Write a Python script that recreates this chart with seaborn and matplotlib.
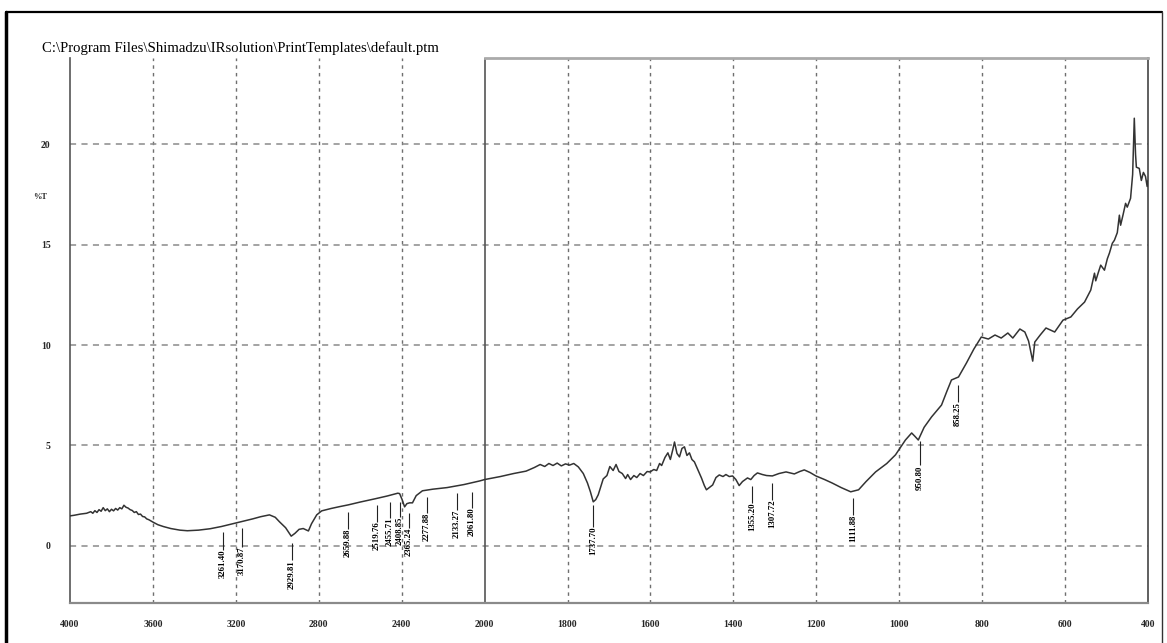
import numpy as np
import pandas as pd
import matplotlib
matplotlib.use("Agg")
import matplotlib.pyplot as plt
from matplotlib.lines import Line2D
import seaborn as sns

# spectrum (wavenumber cm-1, %T)
wavenumber = [4000, 3980, 3950, 3920, 3900, 3890, 3880, 3870, 3860, 3850, 3840, 3830, 3820,
              3810, 3800, 3790, 3780, 3770, 3760, 3750, 3740, 3730, 3720, 3710, 3700, 3690,
              3680, 3670, 3660, 3650, 3640, 3630, 3620, 3600, 3576, 3550, 3514, 3470, 3434,
              3380, 3324, 3270, 3214, 3160, 3119, 3080, 3038, 3010, 2990, 2960, 2933, 2915,
              2895, 2875, 2862, 2850, 2835, 2810, 2786, 2740, 2700, 2657, 2600, 2529, 2470,
              2419, 2410, 2398, 2386, 2375, 2362, 2348, 2330, 2300, 2250, 2181, 2100, 2024,
              2000, 1962, 1930, 1900, 1880, 1866, 1855, 1845, 1835, 1825, 1815, 1805, 1795,
              1785, 1774, 1762, 1752, 1745, 1738, 1732, 1726, 1714, 1705, 1698, 1690, 1683,
              1676, 1668, 1660, 1655, 1648, 1640, 1633, 1625, 1617, 1608, 1601, 1592, 1585,
              1578, 1573, 1565, 1558, 1552, 1546, 1542, 1536, 1530, 1524, 1518, 1512, 1506,
              1500, 1494, 1486, 1477, 1470, 1465, 1458, 1450, 1442, 1434, 1425, 1418, 1410,
              1402, 1394, 1386, 1378, 1366, 1358, 1350, 1342, 1330, 1320, 1306, 1290, 1273,
              1253, 1240, 1229, 1215, 1201, 1180, 1162, 1140, 1117, 1098, 1080, 1057, 1030,
              1009, 985, 970, 962, 954, 940, 922, 898, 885, 874, 857, 838, 820, 802, 785,
              769, 754, 738, 726, 709, 697, 688, 682, 678, 673, 660, 646, 625, 605, 586, 570,
              553, 538, 529, 526, 520, 514, 505, 498, 493, 486, 481, 474, 469, 466, 460, 454,
              450, 442, 437, 433, 430, 428, 421, 416, 411, 406, 402, 400]
transmittance = [1.49, 1.52, 1.58, 1.62, 1.70, 1.62, 1.75, 1.66, 1.80, 1.72, 1.90, 1.75, 1.84,
                 1.70, 1.82, 1.74, 1.86, 1.78, 1.90, 1.84, 2.02, 1.92, 1.88, 1.80, 1.76, 1.66,
                 1.70, 1.56, 1.58, 1.46, 1.44, 1.34, 1.30, 1.18, 1.05, 0.96, 0.86, 0.78, 0.75,
                 0.78, 0.85, 0.96, 1.10, 1.24, 1.34, 1.45, 1.54, 1.42, 1.20, 0.90, 0.48, 0.62,
                 0.82, 0.86, 0.80, 0.74, 1.10, 1.54, 1.74, 1.86, 1.95, 2.04, 2.18, 2.34, 2.48,
                 2.62, 2.60, 2.30, 1.94, 2.10, 2.14, 2.14, 2.50, 2.74, 2.82, 2.90, 3.05, 3.23,
                 3.30, 3.45, 3.60, 3.72, 3.90, 4.05, 3.95, 4.10, 4.00, 4.12, 3.98, 4.08, 4.02,
                 4.10, 3.93, 3.60, 3.13, 2.70, 2.19, 2.30, 2.54, 3.33, 3.50, 3.95, 3.75, 4.05,
                 3.70, 3.60, 3.35, 3.55, 3.30, 3.50, 3.40, 3.60, 3.50, 3.70, 3.68, 3.80, 3.75,
                 4.10, 4.00, 4.40, 4.63, 4.30, 4.80, 5.17, 4.60, 4.43, 4.85, 4.93, 4.50, 4.63,
                 4.30, 4.18, 3.80, 3.38, 3.00, 2.79, 2.90, 3.03, 3.40, 3.53, 3.45, 3.55, 3.45,
                 3.48, 3.30, 3.00, 3.20, 3.38, 3.30, 3.50, 3.63, 3.55, 3.50, 3.48, 3.60, 3.68,
                 3.58, 3.70, 3.78, 3.65, 3.48, 3.30, 3.13, 2.90, 2.69, 2.79, 3.20, 3.68, 4.10,
                 4.53, 5.27, 5.62, 5.45, 5.27, 5.90, 6.42, 7.01, 7.70, 8.26, 8.41, 9.10, 9.80,
                 10.40, 10.30, 10.50, 10.35, 10.60, 10.35, 10.80, 10.65, 10.20, 9.60, 9.20,
                 10.15, 10.50, 10.85, 10.65, 11.24, 11.40, 11.80, 12.14, 12.74, 13.58, 13.20,
                 13.60, 13.98, 13.73, 14.30, 14.58, 15.07, 15.22, 15.60, 16.47, 15.97, 16.50,
                 17.06, 16.87, 17.31, 18.50, 21.30, 19.50, 18.86, 18.80, 18.20, 18.60, 18.40,
                 17.90, 18.20]

# peak picks printed under the trace
peak_wn = [3262, 3170, 2929, 2659, 2519, 2456, 2408, 2365, 2278, 2133, 2061,
           1738, 1355, 1307, 1111, 950, 858]
peak_labels = ['3261.40', '3170.87', '2929.81', '2659.88', '2519.76', '2455.71',
               '2408.85', '2365.24', '2277.88', '2133.27', '2061.80', '1737.70',
               '1355.20', '1307.72', '1111.88', '950.80', '858.25']
peak_line_top = [0.70, 0.90, 0.15, 1.70, 2.05, 2.20, 2.20, 1.65, 2.45, 2.65, 2.70,
                 2.05, 3.00, 3.15, 2.40, 5.20, 8.00]
peak_text_top = [-0.20, -0.05, -0.70, 0.85, 1.20, 1.40, 1.45, 0.90, 1.65, 1.80, 1.90,
                 0.95, 2.15, 2.30, 1.55, 4.00, 7.15]

x_major = [4000, 3600, 3200, 2800, 2400, 2000, 1800, 1600, 1400, 1200, 1000, 800, 600, 400]
y_major = [0, 5, 10, 15, 20]

df = pd.DataFrame({'wavenumber': wavenumber, 'transmittance': transmittance})


def fwd(x):
    x = np.asarray(x, dtype=float)
    return np.where(x < 2000, x, 2000 + (x - 2000) / 2.0)


def inv(u):
    u = np.asarray(u, dtype=float)
    return np.where(u < 2000, u, 2000 + (u - 2000) * 2.0)


sns.set_style('white')
plt.rcParams['font.family'] = ['Liberation Serif', 'DejaVu Serif']

fig = plt.figure(figsize=(11.67, 6.43), dpi=100)
ax = fig.add_axes([0.060, 0.0622, 0.9237, 0.8476])

ax.set_xscale('function', functions=(fwd, inv))
ax.set_xlim(4000, 400)
ax.set_ylim(-2.85, 24.3)

# grid
for xv in x_major[1:-1]:
    if xv == 2000:
        continue
    ax.axvline(xv, color='#6f6f6f', lw=1.0, ls=(0, (2.5, 3)), zorder=1)
for yv in y_major:
    ax.axhline(yv, color='#8a8a8a', lw=1.1, ls=(0, (4, 3.5)), zorder=1)
ax.axvline(2000, color='#555555', lw=1.2, zorder=2)

sns.lineplot(data=df, x='wavenumber', y='transmittance', ax=ax, color='#333333',
             linewidth=1.1, estimator=None, sort=False, zorder=3)

ax.vlines(peak_wn, peak_text_top, peak_line_top, color='#222222', lw=0.8, zorder=3)
for wn, lbl, tt in zip(peak_wn, peak_labels, peak_text_top):
    ax.text(wn, tt, lbl, rotation=90, va='top', ha='center', fontsize=6.3,
            fontweight='bold', color='#000000', zorder=4)

# ticks
minor_hi = [v for v in np.arange(2000, 4001, 80) if v not in x_major]
minor_lo = [v for v in np.arange(400, 2001, 40) if v not in x_major]
ax.set_xticks(x_major)
ax.set_xticklabels([str(v) for v in x_major])
ax.set_xticks(minor_hi + minor_lo, minor=True)
ax.set_yticks(y_major)
ax.set_yticks([v for v in range(-2, 25) if v not in y_major], minor=True)

ax.tick_params(axis='x', which='major', direction='inout', length=8, width=0.8,
               color='#555555', pad=8, labelsize=7)
ax.tick_params(axis='x', which='minor', direction='out', length=4, width=0.7,
               color='#555555')
ax.tick_params(axis='y', which='major', direction='out', length=12, width=0.8,
               color='#555555', pad=2, labelsize=7)
ax.tick_params(axis='y', which='minor', direction='inout', length=5, width=0.7,
               color='#555555')
for t in ax.get_xticklabels() + ax.get_yticklabels():
    t.set_fontweight('bold')

ax.set_xlabel('')
ax.set_ylabel('')

ax.spines['left'].set_color('#555555')
ax.spines['left'].set_linewidth(1.2)
ax.spines['bottom'].set_color('#8a8a8a')
ax.spines['bottom'].set_linewidth(1.6)
ax.spines['right'].set_color('#444444')
ax.spines['right'].set_linewidth(1.2)
ax.spines['top'].set_color('#aaaaaa')
ax.spines['top'].set_linewidth(2.0)
ax.spines['top'].set_bounds(400, 2000)

fig.text(0.036, 0.925, r'C:\Program Files\Shimadzu\IRsolution\PrintTemplates\default.ptm',
         fontsize=10.6, ha='left', va='center', color='#000000')
fig.text(0.034, 0.694, '%T', fontsize=6, fontweight='bold', ha='center', va='center')

# scanned page frame
fig.add_artist(Line2D([6 / 1167, 6 / 1167], [0, 1 - 12 / 643], color='black', lw=2.5))
fig.add_artist(Line2D([6 / 1167, 1162 / 1167], [1 - 12 / 643, 1 - 12 / 643], color='black', lw=1.6))
fig.add_artist(Line2D([1162 / 1167, 1162 / 1167], [0, 1 - 12 / 643], color='#333333', lw=1.0))

fig.savefig('out.png', dpi=100)
plt.close(fig)
